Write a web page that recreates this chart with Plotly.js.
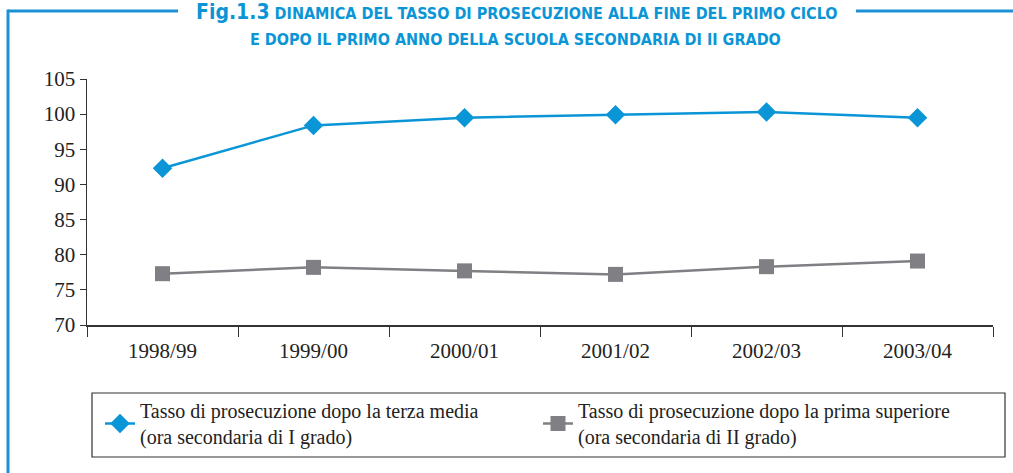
<!DOCTYPE html>
<html><head><meta charset="utf-8">
<script src="https://cdn.plot.ly/plotly-3.0.1.min.js"></script>
<style>html,body{margin:0;padding:0;background:#fff}#chart{width:1013px;height:473px}</style>
</head><body><div id="chart"></div>
<script>
const categories = ["1998/99","1999/00","2000/01","2001/02","2002/03","2003/04"];
const terzaMedia = [92.3, 98.4, 99.5, 99.9, 100.3, 99.5];
const primaSuperiore = [77.3, 78.2, 77.7, 77.2, 78.3, 79.1];
const seriesNames = ["Tasso di prosecuzione dopo la terza media<br>(ora secondaria di I grado)",
                     "Tasso di prosecuzione dopo la prima superiore<br>(ora secondaria di II grado)"];
const yTicks = [70,75,80,85,90,95,100,105];

const blue = "#0a95d6", frame = "#1e90d6", gray = "#7f7f84";
const titleFont = "DejaVu Sans Condensed, sans-serif";
const serif = "Liberation Serif, DejaVu Serif, serif";

const traces = [
  {x: categories, y: terzaMedia, name: seriesNames[0], type: "scatter", mode: "lines+markers",
   line: {color: blue, width: 2.5}, marker: {symbol: "diamond", size: 15, color: blue}},
  {x: categories, y: primaSuperiore, name: seriesNames[1], type: "scatter", mode: "lines+markers",
   line: {color: gray, width: 2.5}, marker: {symbol: "square", size: 15, color: gray}}
];

const layout = {
  width: 1013, height: 473,
  margin: {l: 87, r: 20, t: 79, b: 148, autoexpand: false},
  paper_bgcolor: "#fff", plot_bgcolor: "#fff",
  showlegend: true,
  font: {family: serif, color: "#222"},
  xaxis: {type: "category", tickson: "boundaries", ticks: "outside", ticklen: 10, tickcolor: "#333",
          showline: true, linecolor: "#333", linewidth: 1.5, showgrid: false, zeroline: false,
          ticklabelstandoff: 6,
          tickfont: {family: serif, size: 21, color: "#222"}, range: [-0.5, 5.5], automargin: false},
  yaxis: {range: [70, 105], tickvals: yTicks, ticks: "outside", ticklen: 6, tickcolor: "#333",
          showline: true, linecolor: "#333", linewidth: 1.5, showgrid: false, zeroline: false,
          tickfont: {family: serif, size: 21, color: "#222"}, automargin: false},
  legend: {orientation: "h", xref: "container", yref: "container", x: 100/1013, y: 1 - 391/473,
           xanchor: "left", yanchor: "top", entrywidth: 393, entrywidthmode: "pixels",
           font: {family: serif, size: 20, color: "#222"}, bgcolor: "rgba(0,0,0,0)",
           itemclick: false},
  shapes: [
    {type: "rect", xref: "paper", yref: "paper", x0: (92-87)/906, x1: (1005-87)/906,
     y0: (325-393)/246, y1: (325-457)/246, line: {color: "#333", width: 1.2}},
    {type: "line", xref: "paper", yref: "paper", x0: (8-87)/906, x1: (178-87)/906,
     y0: (325-11)/246, y1: (325-11)/246, line: {color: frame, width: 3}},
    {type: "line", xref: "paper", yref: "paper", x0: (856-87)/906, x1: (1013-87)/906,
     y0: (325-11)/246, y1: (325-11)/246, line: {color: frame, width: 3}},
    {type: "line", xref: "paper", yref: "paper", x0: (8-87)/906, x1: (8-87)/906,
     y0: (325-9.5)/246, y1: (325-480)/246, line: {color: frame, width: 3}}
  ],
  annotations: [
    {xref: "paper", yref: "paper", x: (517-87)/906, y: (325-12)/246, xanchor: "center", yanchor: "middle",
     showarrow: false, font: {family: titleFont, size: 16, color: blue},
     text: "<b><span style='font-size:21px'>Fig.1.3</span> DINAMICA DEL TASSO DI PROSECUZIONE ALLA FINE DEL PRIMO CICLO</b>"},
    {xref: "paper", yref: "paper", x: (515-87)/906, y: (325-39)/246, xanchor: "center", yanchor: "middle",
     showarrow: false, font: {family: titleFont, size: 16, color: blue},
     text: "<b>E DOPO IL PRIMO ANNO DELLA SCUOLA SECONDARIA DI II GRADO</b>"}
  ]
};

Plotly.newPlot("chart", traces, layout, {staticPlot: true, displayModeBar: false});
</script></body></html>
